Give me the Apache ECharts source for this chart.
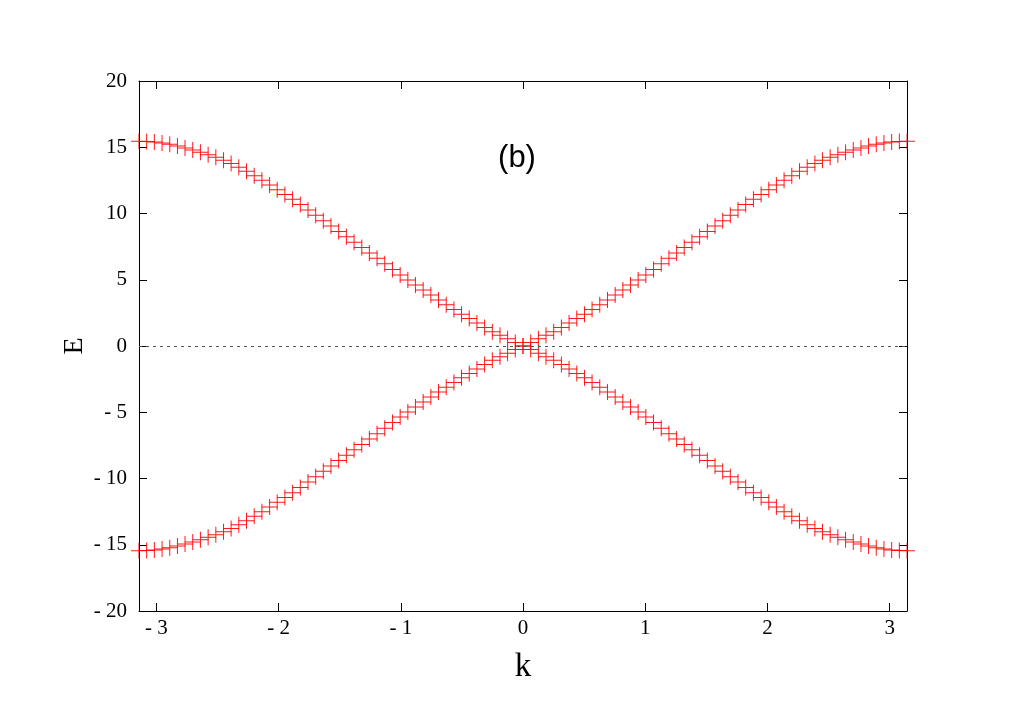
<!DOCTYPE html>
<html>
<head>
<meta charset="utf-8">
<script src="https://cdn.jsdelivr.net/npm/echarts@6/dist/echarts.min.js"></script>
<style>
  html, body { margin: 0; padding: 0; background: #fff; }
  #chart-container { width: 1026px; height: 725px; }
</style>
</head>
<body>
<div id="chart-container"></div>
<script>
// momentum grid, -pi .. pi
var kValues = [
  -3.142, -3.079, -3.016, -2.953, -2.890, -2.827, -2.765, -2.702, -2.639, -2.576,
  -2.513, -2.450, -2.388, -2.325, -2.262, -2.199, -2.136, -2.073, -2.011, -1.948,
  -1.885, -1.822, -1.759, -1.696, -1.634, -1.571, -1.508, -1.445, -1.382, -1.319,
  -1.257, -1.194, -1.131, -1.068, -1.005, -0.942, -0.880, -0.817, -0.754, -0.691,
  -0.628, -0.565, -0.503, -0.440, -0.377, -0.314, -0.251, -0.188, -0.126, -0.063,
  0,
  0.063, 0.126, 0.188, 0.251, 0.314, 0.377, 0.440, 0.503, 0.565, 0.628,
  0.691, 0.754, 0.817, 0.880, 0.942, 1.005, 1.068, 1.131, 1.194, 1.257,
  1.319, 1.382, 1.445, 1.508, 1.571, 1.634, 1.696, 1.759, 1.822, 1.885,
  1.948, 2.011, 2.073, 2.136, 2.199, 2.262, 2.325, 2.388, 2.450, 2.513,
  2.576, 2.639, 2.702, 2.765, 2.827, 2.890, 2.953, 3.016, 3.079, 3.142
];

// band falling from +15.45 to -15.45
var bandDown = [
  15.45, 15.43, 15.39, 15.32, 15.22, 15.09, 14.95, 14.79, 14.62, 14.44,
  14.24, 14.02, 13.77, 13.49, 13.18, 12.85, 12.51, 12.16, 11.80, 11.44,
  11.07, 10.67, 10.27, 9.87, 9.46, 9.06, 8.65, 8.24, 7.83, 7.43,
  7.02, 6.62, 6.20, 5.78, 5.36, 4.98, 4.60, 4.22, 3.85, 3.48,
  3.12, 2.76, 2.40, 2.07, 1.73, 1.40, 1.08, 0.81, 0.54, 0.27,
  0,
  -0.27, -0.54, -0.81, -1.08, -1.40, -1.73, -2.07, -2.40, -2.76, -3.12,
  -3.48, -3.85, -4.22, -4.60, -4.98, -5.36, -5.78, -6.20, -6.62, -7.02,
  -7.43, -7.83, -8.24, -8.65, -9.06, -9.46, -9.87, -10.27, -10.67, -11.07,
  -11.44, -11.80, -12.16, -12.51, -12.85, -13.18, -13.49, -13.77, -14.02, -14.24,
  -14.44, -14.62, -14.79, -14.95, -15.09, -15.22, -15.32, -15.39, -15.43, -15.45
];

// band rising from -15.45 to +15.45
var bandUp = [
  -15.45, -15.43, -15.39, -15.32, -15.22, -15.09, -14.95, -14.79, -14.62, -14.44,
  -14.24, -14.02, -13.77, -13.49, -13.18, -12.85, -12.51, -12.16, -11.80, -11.44,
  -11.07, -10.67, -10.27, -9.87, -9.46, -9.06, -8.65, -8.24, -7.83, -7.43,
  -7.02, -6.62, -6.20, -5.78, -5.36, -4.98, -4.60, -4.22, -3.85, -3.48,
  -3.12, -2.76, -2.40, -2.07, -1.73, -1.40, -1.08, -0.81, -0.54, -0.27,
  0,
  0.27, 0.54, 0.81, 1.08, 1.40, 1.73, 2.07, 2.40, 2.76, 3.12,
  3.48, 3.85, 4.22, 4.60, 4.98, 5.36, 5.78, 6.20, 6.62, 7.02,
  7.43, 7.83, 8.24, 8.65, 9.06, 9.46, 9.87, 10.27, 10.67, 11.07,
  11.44, 11.80, 12.16, 12.51, 12.85, 13.18, 13.49, 13.77, 14.02, 14.24,
  14.44, 14.62, 14.79, 14.95, 15.09, 15.22, 15.32, 15.39, 15.43, 15.45
];

var kTicks = [-3, -2, -1, 0, 1, 2, 3];

var dom = document.getElementById("chart-container");
var myChart = echarts.init(dom, null, { renderer: "canvas" });

function pairs(ys) {
  return kValues.map(function (k, i) { return [k, ys[i]]; });
}

function gnuLabel(v) {
  return v < 0 ? "- " + Math.abs(v) : String(v);
}

var serif = "Liberation Serif";
var plus = "path://M0,7.5h16v1h-16z M7.5,0h1v16h-1z";
var red = "#ff0000";

var option = {
  animation: false,
  backgroundColor: "#fff",
  grid: { left: 139, right: 119, top: 81, bottom: 114 },
  graphic: [
    {
      type: "text",
      x: 517,
      y: 158,
      style: {
        text: "(b)",
        font: "31px 'Liberation Sans'",
        fill: "#000",
        textAlign: "center",
        textVerticalAlign: "middle",
      },
    },
  ],
  xAxis: [
    {
      type: "value",
      min: -Math.PI,
      max: Math.PI,
      name: "k",
      nameLocation: "middle",
      nameGap: 40,
      nameTextStyle: { fontFamily: serif, fontSize: 33, color: "#000" },
      axisLine: { onZero: false, lineStyle: { color: "#000", width: 1 } },
      axisTick: { inside: true, length: 8, customValues: kTicks, lineStyle: { color: "#000" } },
      axisLabel: {
        customValues: kTicks,
        formatter: gnuLabel,
        fontFamily: serif,
        fontSize: 21,
        color: "#000",
        margin: 7,
      },
      splitLine: { show: false },
    },
    {
      type: "value",
      position: "top",
      min: -Math.PI,
      max: Math.PI,
      axisLine: { onZero: false, lineStyle: { color: "#000", width: 1 } },
      axisTick: { inside: true, length: 8, customValues: kTicks, lineStyle: { color: "#000" } },
      axisLabel: { show: false },
      splitLine: { show: false },
    },
  ],
  yAxis: [
    {
      type: "value",
      min: -20,
      max: 20,
      interval: 5,
      name: "E",
      nameLocation: "middle",
      nameRotate: 90,
      nameGap: 50,
      nameMoveOverlap: false,
      nameTextStyle: { fontFamily: serif, fontSize: 28, color: "#000" },
      axisLine: { onZero: false, lineStyle: { color: "#000", width: 1 } },
      axisTick: { inside: true, length: 8, lineStyle: { color: "#000" } },
      axisLabel: {
        formatter: gnuLabel,
        fontFamily: serif,
        fontSize: 21,
        color: "#000",
        margin: 12,
      },
      splitLine: { show: false },
    },
    {
      type: "value",
      position: "right",
      min: -20,
      max: 20,
      interval: 5,
      axisLine: { onZero: false, lineStyle: { color: "#000", width: 1 } },
      axisTick: { inside: true, length: 8, lineStyle: { color: "#000" } },
      axisLabel: { show: false },
      splitLine: { show: false },
    },
  ],
  series: [
    {
      type: "scatter",
      data: pairs(bandDown),
      symbol: plus,
      symbolSize: 16,
      itemStyle: { color: red, opacity: 0.9 },
      silent: true,
      clip: false,
      markLine: {
        silent: true,
        symbol: "none",
        label: { show: false },
        lineStyle: { color: "#555", width: 1, type: [3, 4] },
        data: [{ yAxis: 0 }],
      },
      z: 3,
    },
    {
      type: "scatter",
      data: pairs(bandUp),
      symbol: plus,
      symbolSize: 16,
      itemStyle: { color: red, opacity: 0.9 },
      silent: true,
      clip: false,
      z: 3,
    },
  ],
};

myChart.setOption(option);
window.addEventListener("resize", myChart.resize);
</script>
</body>
</html>
